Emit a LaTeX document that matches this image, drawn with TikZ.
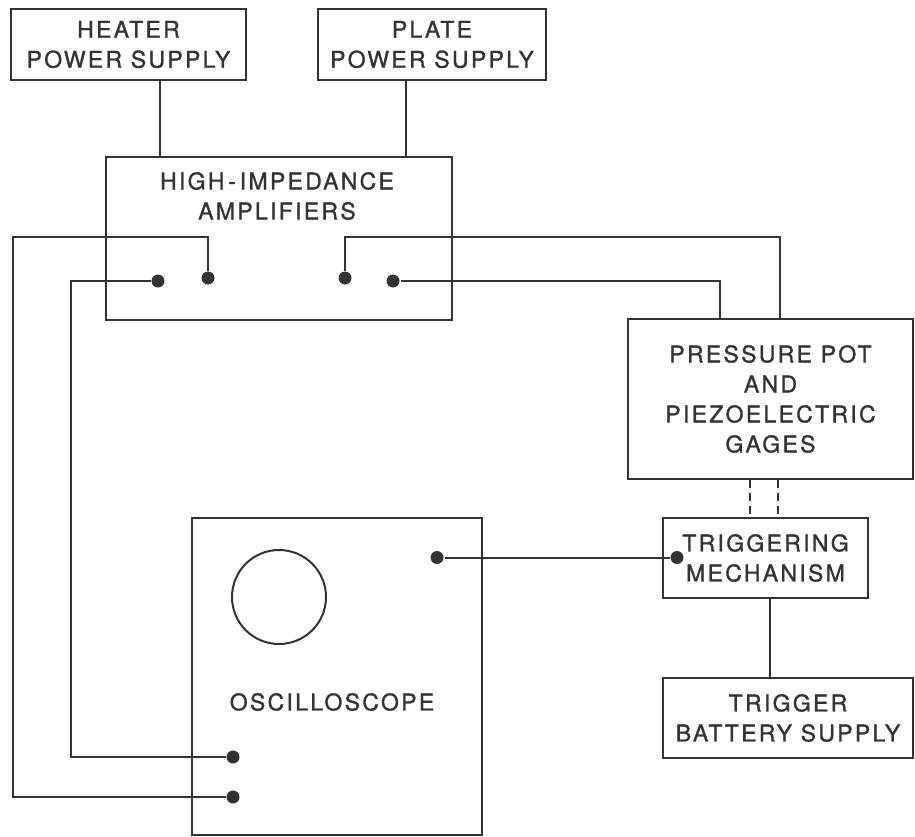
\documentclass[tikz,border=0pt]{standalone}
\usepackage{fontspec}
\setmainfont[LetterSpace=10, FakeBold=1.2]{TeX Gyre Heros}
\usepackage{tikz}

\begin{document}
\begin{tikzpicture}[x=1pt, y=-1pt, line width=2pt, color=black!80,
  box/.style={shape=rectangle, draw, inner sep=0pt, align=center, font=\fontsize{23}{30}\selectfont},
  txt/.style={align=center, inner sep=0pt, font=\fontsize{23}{30}\selectfont},
  dot/.style={shape=circle, fill, inner sep=0pt, minimum size=13pt}]
\useasboundingbox (0,0) rectangle (915,837);
% supplies and amplifier
\node[box, minimum width=235pt, minimum height=71pt] (heat) at (128.5,44.5) {HEATER\\POWER SUPPLY};
\node[box, minimum width=228pt, minimum height=71pt] (plate) at (432,44.5) {PLATE\\POWER SUPPLY};
\node[box, minimum width=346pt, minimum height=163pt] (amp) at (279,238.5) {};
\node[txt] (amptxt) at (277,196) {HIGH\,-\,IMPEDANCE\\AMPLIFIERS};
% gages and trigger
\node[box, minimum width=285pt, minimum height=160pt] (press) at (770.5,399) {PRESSURE POT\\AND\\PIEZOELECTRIC\\GAGES};
\node[box, minimum width=205pt, minimum height=80pt] (trig) at (765.5,558) {TRIGGERING\\MECHANISM};
\node[box, minimum width=250pt, minimum height=80pt] (batt) at (788,718) {TRIGGER\\BATTERY SUPPLY};
% oscilloscope
\node[box, minimum width=290pt, minimum height=317pt] (osc) at (337,676.5) {};
\node[shape=circle, draw, inner sep=0pt, minimum size=94pt] (screen) at (279,597) {};
\node[txt] (osctxt) at (332,702) {OSCILLOSCOPE};
% terminals
\node[dot] (a1) at (158,281) {};
\node[dot] (a2) at (208,278) {};
\node[dot] (a3) at (345,278) {};
\node[dot] (a4) at (393,281) {};
\node[dot] (o1) at (233,757) {};
\node[dot] (o2) at (233,797) {};
\node[dot] (o3) at (437,557.5) {};
\node[dot] (t1) at (677,557.5) {};
% wiring
\draw (heat.south -| 160,0) -- (amp.north -| 160,0);
\draw (plate.south -| 406,0) -- (amp.north -| 406,0);
\draw (a2) |- (13,237) |- (o2);
\draw (a1) -| (71,757) -- (o1);
\draw (a3) |- (780,237) -- (press.north -| 780,0);
\draw (a4) -| (press.north -| 720,0);
\draw (o3) -- (t1);
\draw[dash pattern=on 8pt off 5pt] (press.south -| 750,0) -- (trig.north -| 750,0);
\draw[dash pattern=on 8pt off 5pt] (press.south -| 778,0) -- (trig.north -| 778,0);
\draw (trig.south -| 770,0) -- (batt.north -| 770,0);
\end{tikzpicture}
\end{document}
